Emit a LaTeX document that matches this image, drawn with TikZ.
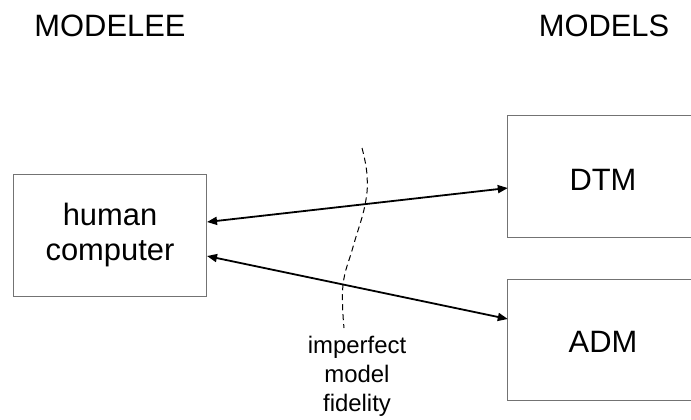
\documentclass[tikz,border=0pt]{standalone}
\usepackage{fontspec}
\setmainfont{Liberation Sans}
\usetikzlibrary{arrows.meta,calc}
\begin{document}
\begin{tikzpicture}[x=1bp,y=-1bp,
  boxline/.style={draw=black!55,line width=1bp},
  bigtext/.style={font=\fontsize{31}{36}\selectfont,inner sep=0pt},
  smalltext/.style={font=\fontsize{24}{29}\selectfont,inner sep=0pt,align=center},
  link/.style={line width=1.8bp,{Triangle[length=10bp,width=8bp]}-{Triangle[length=10bp,width=8bp]}},
  fidel/.style={line width=1bp,dash pattern=on 6bp off 4bp}]
\useasboundingbox (0,0) rectangle (691,419);
\coordinate (edge) at (691,0);
% titles
\node[bigtext,anchor=base] (tl) at (110,36.7) {MODELEE};
\node[bigtext,anchor=base] (tr) at (604,36.7) {MODELS};
% boxes
\node[boxline,bigtext,minimum width=192bp,minimum height=122bp,align=center] (hc) at (110,235) {human\\computer};
\node[minimum width=190bp,minimum height=121bp,inner sep=0pt] (dtm) at (603,176.5) {};
\node[minimum width=190bp,minimum height=121bp,inner sep=0pt] (adm) at (603,340) {};
\node[bigtext] (dtmt) at (603,180) {DTM};
\node[bigtext] (admt) at (603,342) {ADM};
\draw[boxline] (edge |- dtm.north) -- (dtm.north west) -- (dtm.south west) -- (edge |- dtm.south);
\draw[boxline] (edge |- adm.north) -- (adm.north west) -- (adm.south west) -- (edge |- adm.south);
% connectors
\draw[link] ($(hc.east)+(0.5,-13)$) -- ($(dtm.west)+(0,11.5)$);
\draw[link] ($(hc.east)+(0.5,21)$) -- ($(adm.west)+(0,-21)$);
% fidelity boundary
\draw[fidel] plot[smooth,tension=0.7] coordinates {(362,148) (367,175) (365,205) (353,247) (343,285) (344,328)};
\node[smalltext,anchor=north] (fid) at (357,336) {imperfect\\model\\fidelity};
\end{tikzpicture}
\end{document}
